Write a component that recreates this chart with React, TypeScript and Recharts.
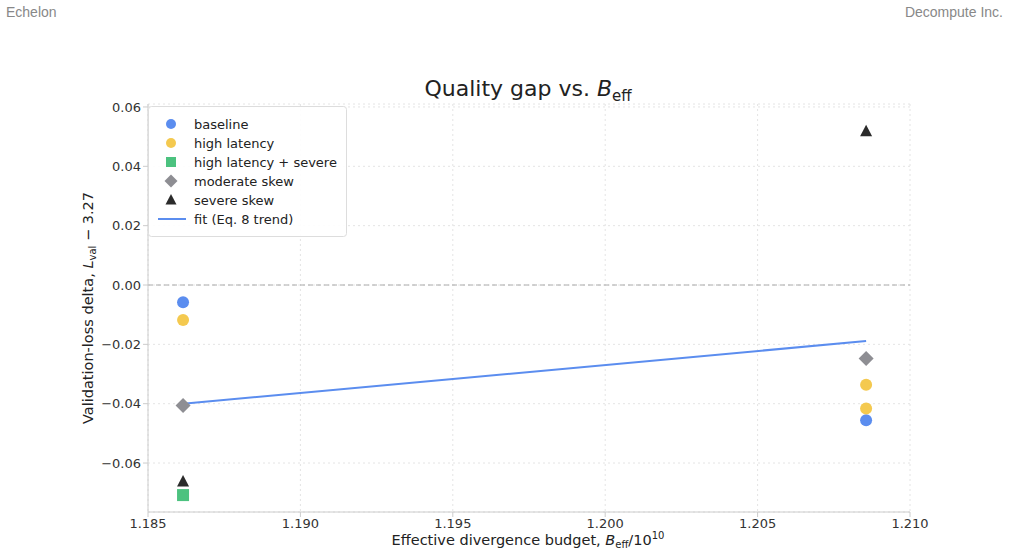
import React from "react";
import { ScatterChart, Scatter, XAxis, YAxis, CartesianGrid, ReferenceLine } from "recharts";

const baseline = [
  { x: 1.18615, y: -0.0058 },
  { x: 1.20856, y: -0.0456 },
];
const highLatency = [
  { x: 1.18615, y: -0.0118 },
  { x: 1.20856, y: -0.0336 },
  { x: 1.20856, y: -0.0416 },
];
const highLatencySevere = [{ x: 1.18615, y: -0.0708 }];
const moderateSkew = [
  { x: 1.18615, y: -0.0406 },
  { x: 1.20856, y: -0.0248 },
];
const severeSkew = [
  { x: 1.18615, y: -0.0662 },
  { x: 1.20856, y: 0.0518 },
];
const fitLine = [
  { x: 1.18615, y: -0.0400 },
  { x: 1.20856, y: -0.0189 },
];
const xTicks = [1.185, 1.19, 1.195, 1.2, 1.205, 1.21];
const yTicks = [-0.06, -0.04, -0.02, 0.0, 0.02, 0.04, 0.06];

const C_BLUE = "#5b8def";
const C_YELLOW = "#f4c94f";
const C_GREEN = "#4cc27f";
const C_GREY = "#8e8e93";
const C_BLACK = "#2b2b2b";
const FONT = "DejaVu Sans";

const Circle = (color: string) => (p: any) => <circle cx={p.cx} cy={p.cy} r={6} fill={color} />;
const Square = (color: string) => (p: any) => <rect x={p.cx - 6} y={p.cy - 6} width={12} height={12} fill={color} />;
const Diamond = (color: string) => (p: any) => (
  <polygon points={`${p.cx},${p.cy - 7.5} ${p.cx + 7.5},${p.cy} ${p.cx},${p.cy + 7.5} ${p.cx - 7.5},${p.cy}`} fill={color} />
);
const Triangle = (color: string) => (p: any) => (
  <polygon points={`${p.cx},${p.cy - 6.5} ${p.cx + 6},${p.cy + 5} ${p.cx - 6},${p.cy + 5}`} fill={color} />
);
const Empty = () => <g />;

const legendItems = [
  { label: "baseline", kind: "circle", color: C_BLUE },
  { label: "high latency", kind: "circle", color: C_YELLOW },
  { label: "high latency + severe", kind: "square", color: C_GREEN },
  { label: "moderate skew", kind: "diamond", color: C_GREY },
  { label: "severe skew", kind: "triangle", color: C_BLACK },
  { label: "fit (Eq. 8 trend)", kind: "line", color: C_BLUE },
];

function LegendBox() {
  return (
    <svg style={{ position: "absolute", left: 148, top: 106 }} width={200} height={132}>
      <rect x={0.5} y={0.5} width={198} height={130} rx={3} fill="white" fillOpacity={0.9} stroke="#dddddd" />
      {legendItems.map((it, i) => {
        const cy = 18 + i * 19;
        const cx = 23;
        let mk: any = null;
        if (it.kind === "circle") mk = <circle cx={cx} cy={cy} r={5} fill={it.color} />;
        if (it.kind === "square") mk = <rect x={cx - 5} y={cy - 5} width={10} height={10} fill={it.color} />;
        if (it.kind === "diamond") mk = <polygon points={`${cx},${cy - 6.5} ${cx + 6.5},${cy} ${cx},${cy + 6.5} ${cx - 6.5},${cy}`} fill={it.color} />;
        if (it.kind === "triangle") mk = <polygon points={`${cx},${cy - 6} ${cx + 5.5},${cy + 4.5} ${cx - 5.5},${cy + 4.5}`} fill={it.color} />;
        if (it.kind === "line") mk = <line x1={10} x2={38} y1={cy} y2={cy} stroke={it.color} strokeWidth={2} />;
        return (
          <g key={it.label}>
            {mk}
            <text x={46} y={cy + 4.5} fontFamily={FONT} fontSize={13} fill="#222">{it.label}</text>
          </g>
        );
      })}
    </svg>
  );
}

export default function App() {
  return (
    <div style={{ position: "absolute", left: 0, top: 0, width: 1010, height: 555, background: "white", fontFamily: FONT }}>
      <div style={{ position: "absolute", left: 6, top: 4, fontFamily: "Liberation Sans", fontSize: 14, color: "#888" }}>Echelon</div>
      <div style={{ position: "absolute", right: 7, top: 4, fontFamily: "Liberation Sans", fontSize: 14, color: "#888" }}>Decompute Inc.</div>
      <ScatterChart width={1010} height={555} margin={{ top: 104, right: 100, bottom: 13, left: 88 }}>
        <text x={528} y={96} textAnchor="middle" fontFamily={FONT} fontSize={22} fill="#222">
          Quality gap vs. <tspan fontStyle="italic">B</tspan>
          <tspan fontSize={15} dy={5}>eff</tspan>
        </text>
        <CartesianGrid stroke="#e4e4e4" strokeDasharray="2 3" />
        <XAxis
          type="number"
          dataKey="x"
          domain={[1.185, 1.21]}
          ticks={xTicks}
          tickFormatter={(v: number) => v.toFixed(3)}
          allowDataOverflow
          stroke="#cccccc"
          tick={{ fill: "#333", fontSize: 13, fontFamily: FONT }}
          tickSize={5}
          label={(props: any) => (
            <text x={528} y={545} textAnchor="middle" fontFamily={FONT} fontSize={14.5} fill="#222">
              Effective divergence budget, <tspan fontStyle="italic">B</tspan>
              <tspan fontSize={10} dy={3}>eff</tspan>
              <tspan dy={-3}>/10</tspan>
              <tspan fontSize={10} dy={-6}>10</tspan>
            </text>
          )}
        />
        <YAxis
          type="number"
          dataKey="y"
          width={60}
          domain={[-0.0765, 0.061]}
          ticks={yTicks}
          allowDataOverflow
          tickFormatter={(v: number) => (v < 0 ? "\u2212" + Math.abs(v).toFixed(2) : v.toFixed(2))}
          stroke="#cccccc"
          tick={{ fill: "#333", fontSize: 13, fontFamily: FONT }}
          tickSize={5}
          label={(props: any) => (
            <text x={0} y={0} transform="translate(93,308) rotate(-90)" textAnchor="middle" fontFamily={FONT} fontSize={14.5} fill="#222">
              Validation-loss delta, <tspan fontStyle="italic">L</tspan>
              <tspan fontSize={10} dy={3}>val</tspan>
              <tspan dy={-3}> {"\u2212"} 3.27</tspan>
            </text>
          )}
        />
        <ReferenceLine y={0} stroke="#aaaaaa" strokeDasharray="5 3" strokeWidth={1} />
        <Scatter data={fitLine} line={{ stroke: C_BLUE, strokeWidth: 2 }} shape={Empty} isAnimationActive={false} />
        <Scatter data={baseline} shape={Circle(C_BLUE)} isAnimationActive={false} />
        <Scatter data={highLatency} shape={Circle(C_YELLOW)} isAnimationActive={false} />
        <Scatter data={highLatencySevere} shape={Square(C_GREEN)} isAnimationActive={false} />
        <Scatter data={moderateSkew} shape={Diamond(C_GREY)} isAnimationActive={false} />
        <Scatter data={severeSkew} shape={Triangle(C_BLACK)} isAnimationActive={false} />
      </ScatterChart>
      <LegendBox />
    </div>
  );
}
